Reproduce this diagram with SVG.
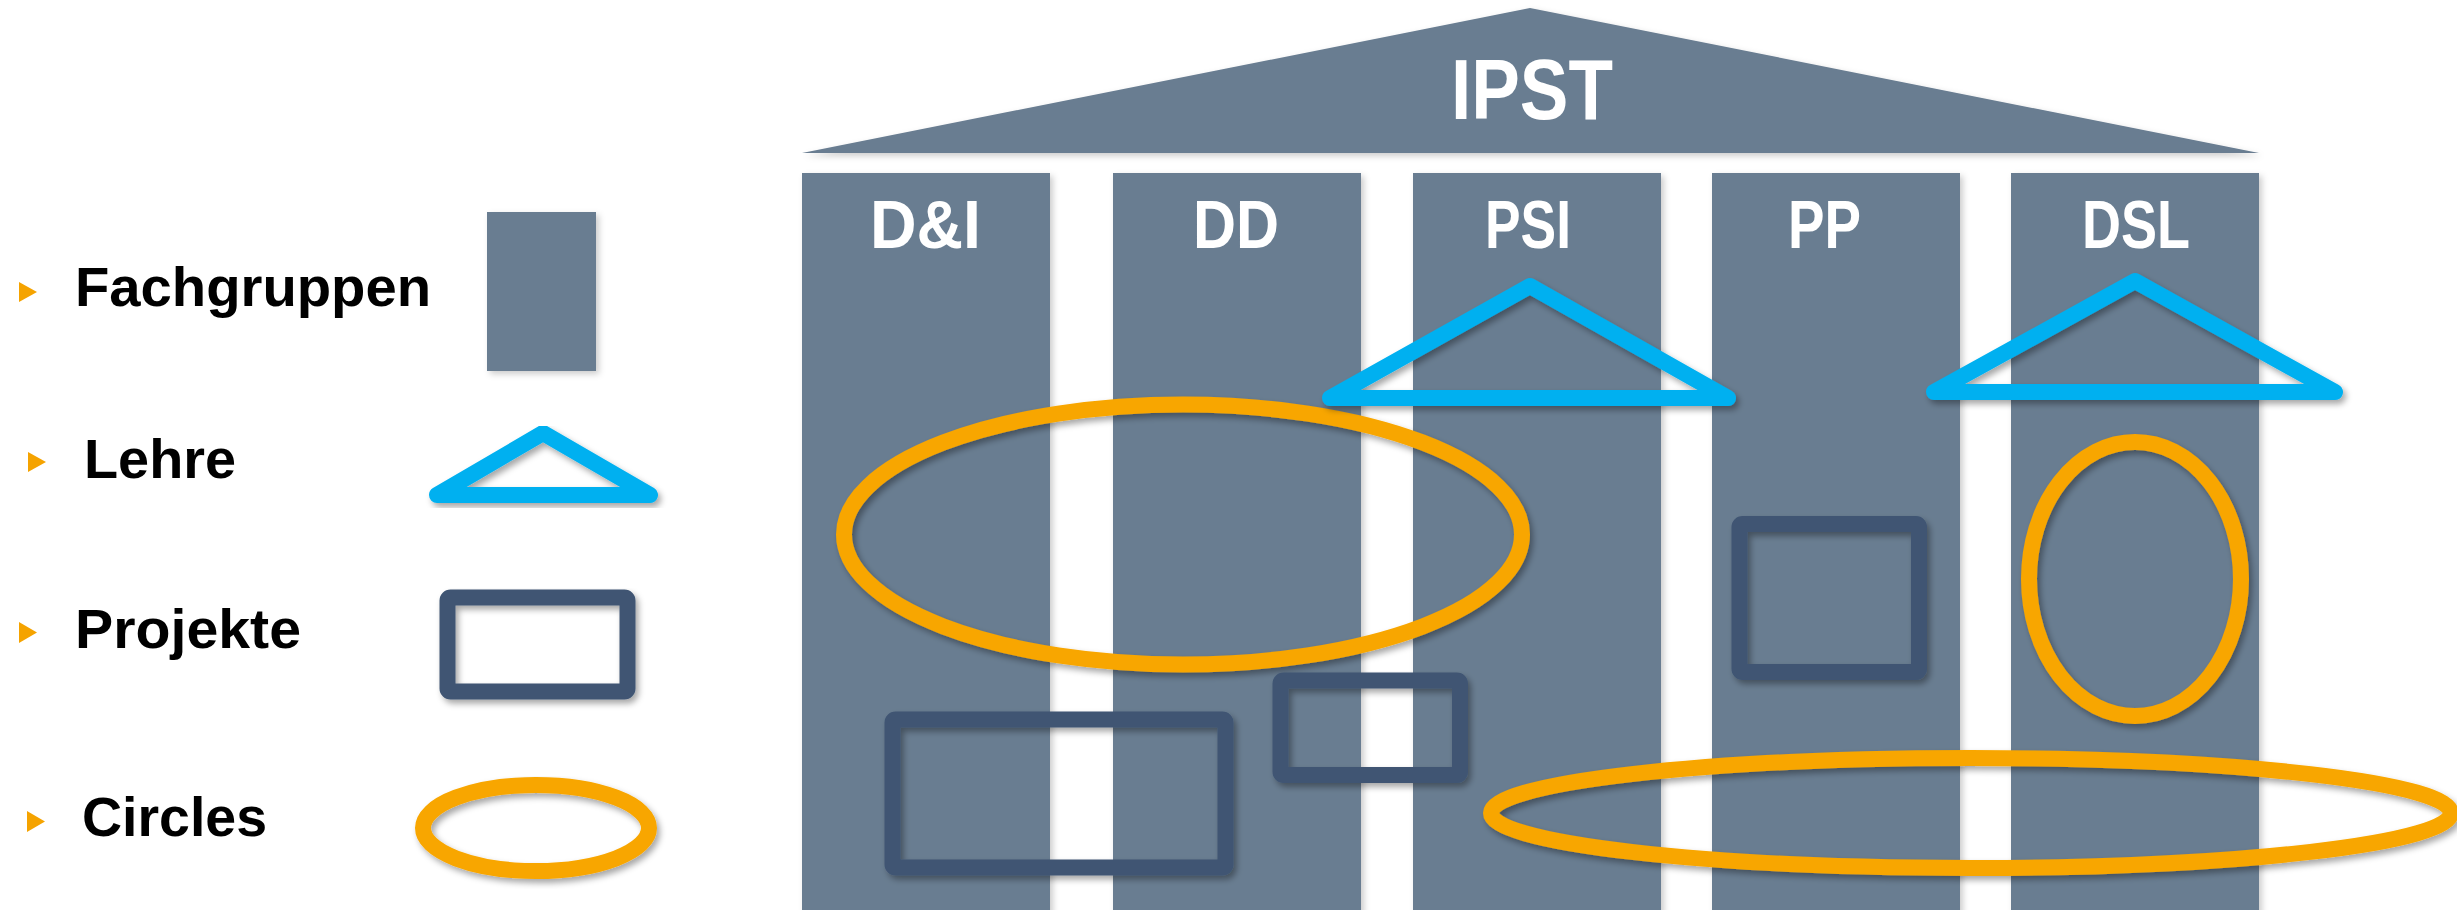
<svg xmlns="http://www.w3.org/2000/svg" width="2457" height="910" viewBox="0 0 2457 910">
<defs>
<filter id="sh" x="-10%" y="-10%" width="130%" height="130%">
<feDropShadow dx="3" dy="4" stdDeviation="3" flood-color="#000" flood-opacity="0.35"/>
</filter>
<filter id="shc" x="-10%" y="-10%" width="130%" height="130%">
<feDropShadow dx="3" dy="3" stdDeviation="3" flood-color="#000" flood-opacity="0.2"/>
</filter>
<style>
.col{fill:#697d91;filter:url(#shc)}
.lbl{font-family:"Liberation Sans",Arial,sans-serif;font-weight:bold;fill:#fff;font-size:68px}
.leg{font-family:"Liberation Sans",Arial,sans-serif;font-weight:bold;fill:#000;font-size:55px}
.bul{fill:#f5a300}
.lehre{fill:none;stroke:#00b0f0;stroke-width:16;stroke-linejoin:round;filter:url(#sh)}
.proj{fill:none;stroke:#3f5573;stroke-width:16;stroke-linejoin:round;filter:url(#sh)}
.circ{fill:none;stroke:#f8a600;stroke-width:16;filter:url(#sh)}
</style>
</defs>
<rect width="2457" height="910" fill="#fff"/>

<g id="legend">
<g id="legend-fachgruppen">
<polygon class="bul" points="19,282 37,292 19,302"/>
<text class="leg" x="75" y="306" textLength="356" lengthAdjust="spacingAndGlyphs">Fachgruppen</text>
<rect x="487" y="212" width="109" height="159" fill="#697d91" filter="url(#shc)"/>
</g>
<g id="legend-lehre">
<polygon class="bul" points="28,452 46,462 28,472"/>
<text class="leg" x="84" y="478" textLength="152" lengthAdjust="spacingAndGlyphs">Lehre</text>
<polygon class="lehre" points="437,495 543,433 650,495"/>
</g>
<g id="legend-projekte">
<polygon class="bul" points="19,622 37,632.5 19,643"/>
<text class="leg" x="75" y="648" textLength="226" lengthAdjust="spacingAndGlyphs">Projekte</text>
<rect class="proj" x="447.5" y="597.5" width="180" height="94" rx="3"/>
</g>
<g id="legend-circles">
<polygon class="bul" points="27,811 45,821.5 27,832"/>
<text class="leg" x="82" y="836" textLength="185" lengthAdjust="spacingAndGlyphs">Circles</text>
<ellipse class="circ" cx="536" cy="828" rx="113" ry="43"/>
</g>
</g>

<g id="roof">
<polygon points="802,153 1530,8 2259,153" fill="#697d91" filter="url(#shc)"/>
<text class="lbl" x="1451" y="119" style="font-size:85px" textLength="162" lengthAdjust="spacingAndGlyphs">IPST</text>
</g>

<g id="col-di">
<rect class="col" x="802" y="173" width="248" height="760"/>
<text class="lbl" x="870" y="248" textLength="111" lengthAdjust="spacingAndGlyphs">D&amp;I</text>
</g>
<g id="col-dd">
<rect class="col" x="1113" y="173" width="248" height="760"/>
<text class="lbl" x="1193" y="248" textLength="86" lengthAdjust="spacingAndGlyphs">DD</text>
</g>
<g id="col-psi">
<rect class="col" x="1413" y="173" width="248" height="760"/>
<text class="lbl" x="1485" y="248" textLength="86" lengthAdjust="spacingAndGlyphs">PSI</text>
</g>
<g id="col-pp">
<rect class="col" x="1712" y="173" width="248" height="760"/>
<text class="lbl" x="1788" y="248" textLength="73" lengthAdjust="spacingAndGlyphs">PP</text>
</g>
<g id="col-dsl">
<rect class="col" x="2011" y="173" width="248" height="760"/>
<text class="lbl" x="2082" y="248" textLength="108" lengthAdjust="spacingAndGlyphs">DSL</text>
</g>

<g id="circle-di-dd-psi"><ellipse class="circ" cx="1183" cy="534.5" rx="339" ry="130"/></g>
<g id="circle-dsl"><ellipse class="circ" cx="2135" cy="579" rx="106" ry="137"/></g>
<g id="circle-psi-pp-dsl"><ellipse class="circ" cx="1971" cy="813" rx="480" ry="55"/></g>

<g id="lehre-psi"><polygon class="lehre" points="1330,398 1530,286 1728,398"/></g>
<g id="lehre-dsl"><polygon class="lehre" points="1934,392 2135,281 2335,392"/></g>

<g id="projekt-di-dd"><rect class="proj" x="892.5" y="719.5" width="333" height="148" rx="3"/></g>
<g id="projekt-dd-psi"><rect class="proj" x="1280.5" y="680.5" width="179.5" height="94.5" rx="3"/></g>
<g id="projekt-pp"><rect class="proj" x="1739.5" y="524" width="179.5" height="148" rx="3"/></g>
</svg>
